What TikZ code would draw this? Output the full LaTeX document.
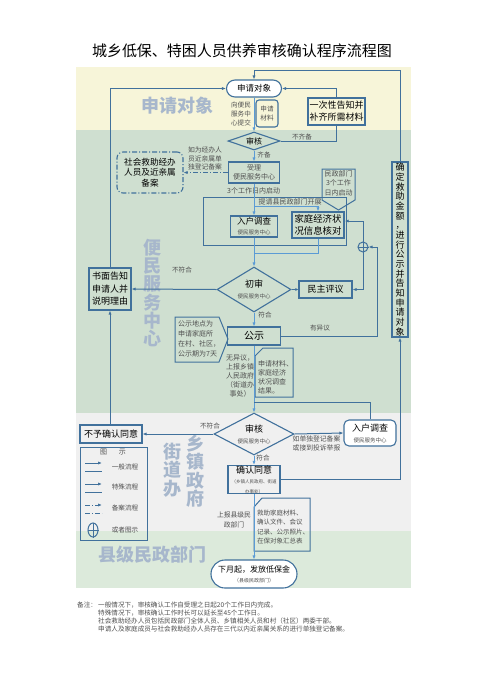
\documentclass[tikz,border=0pt]{standalone}
\usepackage{fontspec}
\setmainfont{Noto Sans CJK SC}
\usetikzlibrary{arrows.meta,shapes.geometric}
\definecolor{lc}{HTML}{41719C}
\definecolor{lcl}{HTML}{5B9BD5}
\definecolor{bgA}{HTML}{F7F5D9}
\definecolor{bgB}{HTML}{CFDFD0}
\definecolor{bgC}{HTML}{F0F0F0}
\definecolor{bgD}{HTML}{DCEADB}
\definecolor{bandtxt}{HTML}{A7B7CC}
\definecolor{lbl}{HTML}{505050}
\newcommand{\myfs}[2]{\fontsize{#1}{#2}\selectfont}
\tikzset{
  ln/.style={draw=lc, line width=1pt},
  lnL/.style={draw=lcl, line width=1pt},
  arr/.style={ln, -{Latex[length=4pt,width=3.2pt]}},
  arrL/.style={lnL, -{Latex[length=4pt,width=3.2pt]}},
  bx/.style={draw=lc, line width=1.1pt, inner sep=0pt, align=center},
  dia/.style={diamond, draw=lc, line width=1.1pt, inner sep=0pt, align=center},
  lab/.style={text=lbl, font=\myfs{6.6}{8}, inner sep=0pt},
  band/.style={text=bandtxt, font=\bfseries\myfs{18}{18.3}, inner sep=0pt, align=center},
  dd/.style={dash pattern=on 5pt off 2pt on 1pt off 2pt},
}
\begin{document}
\begin{tikzpicture}[x=1pt,y=-1pt]
\useasboundingbox (0,0) rectangle (484,681);
\fill[white] (0,0) rectangle (484,681);
% bands
\fill[bgA] (76,67) rectangle (411,130);
\fill[bgB] (76,130) rectangle (411,413);
\fill[bgC] (76,413) rectangle (411,531);
\fill[bgD] (76,531) rectangle (411,588);
% title
\node[font=\myfs{15}{18}, inner sep=0pt] (title) at (242,50.5) {城乡低保、特困人员供养审核确认程序流程图};
% band labels
\node[band] (bl1) at (177,106) {申请对象};
\node[band] (bl2) at (152,293) {便\\民\\服\\务\\中\\心};
\node[band] (bl3) at (195,471) {乡\\镇\\政\\府};
\node[band] (bl4) at (172,470) {街\\道\\办};
\node[band] (bl5) at (152,555) {县级民政部门};

% nodes
\node[bx, fill=white, rounded corners=8.5pt, minimum width=55pt, minimum height=17pt, font=\myfs{8.5}{10}] (apply) at (254,88.5) {申请对象};
\node[lab, align=center, font=\myfs{6.6}{9}] (submit) at (241,114) {向便民\\服务中\\心提交};
\node[bx, rounded corners=3pt, minimum width=22pt, minimum height=27pt, font=\myfs{6.6}{9}, text=lbl] (mat) at (267,113.5) {申请\\材料};
\node[bx, minimum width=57pt, minimum height=27pt, font=\myfs{9}{12}] (once) at (336.5,111.5) {一次性告知并\\补齐所需材料};
\node[dia, aspect=3, minimum width=52pt, minimum height=18pt, font=\myfs{8}{9}] (rev1) at (254,141) {审核};
\node[lab] (lqb) at (264,155) {齐备};
\node[lab] (lbqb) at (302,137) {不齐备};
\node[bx, minimum width=51pt, minimum height=21pt, font=\myfs{7}{9}, text=lbl] (accept) at (254,172.5) {受理\\便民服务中心};
\node[lab, align=center, font=\myfs{6.8}{8.5}] (note1) at (205,158.5) {如为经办人\\员近亲属单\\独登记备案};
\node[bx, dd, rounded corners=6pt, minimum width=66pt, minimum height=41pt, font=\myfs{8.6}{10.5}] (soc) at (150,172.5) {社会救助经办\\人员及近亲属\\备案};
\node[lab, anchor=west, font=\myfs{7}{8}] (l3d) at (227,191) {3个工作日内启动};
\node[draw=lc, line width=1pt, minimum width=143pt, minimum height=48pt, inner sep=0pt] (grp) at (274.5,221) {};
\node[lab, font=\myfs{7}{8}] (ltq) at (290,201.5) {提请县民政部门开展};
\node[bx, minimum width=47pt, minimum height=21pt, font=\myfs{8.5}{10}] (home1) at (254,226.5) {入户调查\\{\myfs{5.5}{7}\color{lbl}便民服务中心}};
% pentagon callout
\draw[ln] (322,169) -- (355,169) -- (355,200) -- (338.5,210) -- (322,200) -- cycle;
\node[lab, align=center, font=\myfs{7}{9.5}] (pent) at (338.5,183) {民政部门\\3个工作\\日内启动};
\node[bx, line width=1.4pt, minimum width=52pt, minimum height=26pt, font=\myfs{9.4}{12}] (fam) at (318,225) {家庭经济状\\况信息核对};
\node[circle, draw=lc, line width=1pt, minimum size=10pt, inner sep=0pt] (orn) at (363,247) {};
\draw[ln] (orn.north) -- (orn.south) (orn.west) -- (orn.east);
\node[dia, aspect=1.6, minimum width=74pt, minimum height=45pt, font=\myfs{9}{11}] (init) at (254,289.5) {初审\\{\myfs{5.5}{7}\color{lbl}便民服务中心}};
\node[bx, minimum width=53pt, minimum height=17pt, font=\myfs{9}{11}] (demo) at (325.5,289.5) {民主评议};
\node[lab] (lbfh) at (182,270) {不符合};
\node[bx, minimum width=42pt, minimum height=42pt, font=\myfs{9}{12.5}] (notify) at (110,289) {书面告知\\申请人并\\说明理由};
\node[lab] (lfh1) at (265,315) {符合};
\node[lab] (lyyy) at (320,328) {有异议};
\node[bx, minimum width=53pt, minimum height=18pt, font=\myfs{10}{12}] (pub) at (254,336) {公示};
% callout pub
\draw[ln] (175,317) -- (219,317) -- (228,339) -- (219,362) -- (175,362) -- cycle;
\node[lab, anchor=west, align=left, font=\myfs{7}{10}] (pubnote) at (178,338.5) {公示地点为\\申请家庭所\\在村、社区，\\公示期为7天};
\node[lab, align=center, font=\myfs{7}{9}] (noobj) at (240,375.5) {无异议，\\上报乡镇\\人民政府\\（街道办\\事处）};
% callout materials
\draw[ln] (263,348) -- (293,348) -- (293,397) -- (255,397) -- (255,356) -- cycle;
\node[lab, anchor=west, align=left, font=\myfs{7}{9}] (matnote) at (258,377) {申请材料、\\家庭经济\\状况调查\\结果。};
\node[dia, aspect=1.9, minimum width=80pt, minimum height=42pt, font=\myfs{9}{11}] (rev2) at (254,434) {审核\\{\myfs{5.5}{7}\color{lbl}便民服务中心}};
\node[lab] (lbfh2) at (210,426) {不符合};
\node[bx, minimum width=62pt, minimum height=18pt, font=\myfs{9}{11}] (reject) at (111,434) {不予确认同意};
\node[lab, align=left, font=\myfs{6.8}{9}] (note2) at (316.5,443.5) {如单独登记备案\\或接到投诉举报};
\node[bx, fill=white, rounded corners=5pt, minimum width=52pt, minimum height=26pt, font=\myfs{9}{11}] (home2) at (370,433) {入户调查\\{\myfs{5.5}{7}\color{lbl}便民服务中心}};
\node[lab] (lfh2) at (263,458) {符合};
\node[bx, minimum width=52pt, minimum height=27pt, font=\myfs{9}{10}] (conf) at (254,479.5) {确认同意\\{\myfs{4.5}{6}\color{lbl}（乡镇人民政府、街道}\\{\myfs{4.5}{6}\color{lbl}办事处）}};
\node[bx, minimum width=16pt, minimum height=175pt, font=\myfs{9}{9.65}] (amount) at (400,249.5) {确\\定\\救\\助\\金\\额\\，\\进\\行\\公\\示\\并\\告\\知\\申\\请\\对\\象};
\node[lab, align=center, font=\myfs{6.8}{9.5}] (lup) at (234,520) {上报县级民\\政部门};
\draw[ln] (262,498) -- (310,498) -- (310,551) -- (254,551) -- (254,507) -- cycle;
\node[lab, anchor=west, align=left, font=\myfs{6.5}{9.3}] (famnote) at (257,527) {救助家庭材料、\\确认文件、会议\\记录、公示照片、\\在保对象汇总表};
\node[bx, fill=white, rounded corners=14pt, minimum width=86pt, minimum height=28pt, font=\myfs{8}{10}] (pay) at (254,574) {下月起，发放低保金\\{\myfs{5}{6}\color{lbl}（县级民政部门）}};

% legend
\node[draw=lc, line width=1pt, minimum width=67pt, minimum height=93pt, inner sep=0pt] (legend) at (113.5,493.5) {};
\node[lab, font=\myfs{7}{8}] (lgt) at (113,451.5) {图\hspace{12pt}示};
\coordinate (g1a) at (85,463); \coordinate (g1b) at (102,463);
\coordinate (g1c) at (85,471); \coordinate (g1d) at (102,471);
\draw[arr] (g1a) -- (g1b); \draw[ln] (g1c) -- (g1d);
\node[lab] (lg1) at (125,467) {一般流程};
\coordinate (g2a) at (85,484); \coordinate (g2b) at (102,484);
\coordinate (g2c) at (85,492); \coordinate (g2d) at (102,492);
\draw[arr] (g2a) -- (g2b); \draw[ln] (g2c) -- (g2d);
\node[lab] (lg2) at (125,487) {特殊流程};
\coordinate (g3a) at (85,505); \coordinate (g3b) at (102,505);
\coordinate (g3c) at (85,513); \coordinate (g3d) at (102,513);
\draw[arr, dd] (g3a) -- (g3b); \draw[ln, dd] (g3c) -- (g3d);
\node[lab] (lg3) at (125,508) {备案流程};
\node[ellipse, draw=lc, line width=1pt, minimum width=10pt, minimum height=14pt, inner sep=0pt] (gor) at (93,530) {};
\draw[ln] (gor.north) -- (gor.south) (gor.west) -- (gor.east);
\node[lab] (lg4) at (125,530) {或者图示};

% footnote
\node[lab, anchor=west, font=\myfs{6.6}{8}] (fn0) at (77,605) {备注：};
\node[lab, anchor=west, font=\myfs{6.6}{8}] (fn1) at (98,605) {一般情况下，审核确认工作自受理之日起20个工作日内完成。};
\node[lab, anchor=west, font=\myfs{6.6}{8}] (fn2) at (98,613) {特殊情况下，审核确认工作时长可以延长至45个工作日。};
\node[lab, anchor=west, font=\myfs{6.6}{8}] (fn3) at (98,621) {社会救助经办人员包括民政部门全体人员、乡镇相关人员和村（社区）两委干部。};
\node[lab, anchor=west, font=\myfs{6.6}{8}] (fn4) at (98,629) {申请人及家庭成员与社会救助经办人员存在三代以内近亲属关系的进行单独登记备案。};

% connectors
\coordinate (t1) at (400,70); \coordinate (t2) at (254,70);
\draw[arr] (amount.north) -- (t1) -- (t2) -- (apply.north);
\draw[arrL] (apply.south) -- (rev1.north);
\draw[ln] (rev1.east) -| (once.south);
\draw[arr] (once.north) |- (apply.east);
\draw[arrL] (rev1.south) -- (accept.north);
\draw[ln, dd, -{Latex[length=4pt,width=3.2pt]}] (accept.west) -- (soc.east);
\draw[arrL] (accept.south) -- (home1.north);
\coordinate (br1) at (254,206);
\draw[arrL] (br1) -| (fam.north);
\draw[arrL] (home1.south) -- (init.north);
\coordinate (j1) at (254,253);
\draw[lnL] (fam.south) |- (j1);
\draw[arr] (init.west) -- (notify.east);
\draw[ln, -{Latex[length=3pt,width=3pt]}] (init.east) -- (demo.west);
\draw[arr] (notify.north) |- (apply.west);
\draw[arrL] (init.south) -- (pub.north);
\coordinate (c1) at (377,336); \coordinate (c2) at (377,247);
\draw[arr] (pub.east) -- (c1) -- (c2) -- (orn.east);
\draw[arr] (orn.north) |- ([yshift=4pt]fam.east);
\draw[arr] (orn.south) |- (demo.east);
\draw[arrL] (pub.south) -- (rev2.north);
\draw[arr] (rev2.west) -- (reject.east);
\draw[arr] (notify.south |- reject.north) -- (notify.south);
\draw[arr] (rev2.east) -- (home2.west);
\coordinate (j2) at (254,402);
\draw[ln] (home2.north) |- (j2);
\draw[arrL] (rev2.south) -- (conf.north);
\draw[arr] (conf.east) -| (amount.south);
\draw[arrL] (conf.south) -- (pay.north);
\end{tikzpicture}
\end{document}
